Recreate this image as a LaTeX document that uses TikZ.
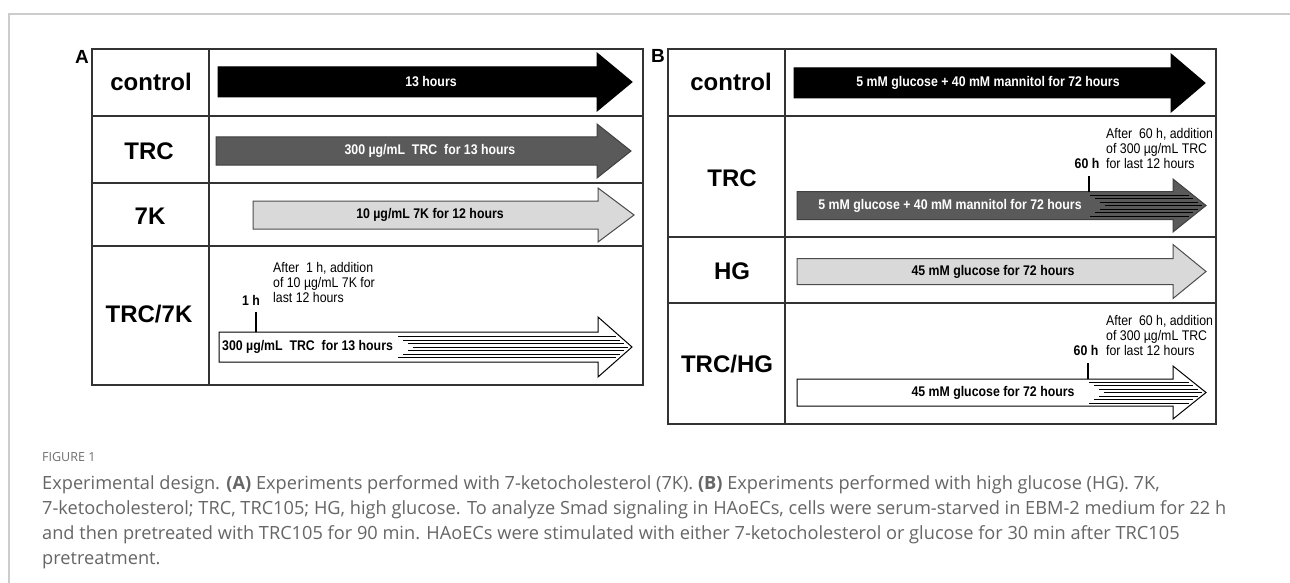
\documentclass[tikz,border=0pt]{standalone}
\usepackage{fontspec}
\setmainfont{Liberation Sans}
\newfontfamily\condensed[FakeStretch=0.88]{Liberation Sans}
\newfontfamily\capfont{Open Sans}

\definecolor{darkfill}{HTML}{5A5A5A}
\definecolor{lightfill}{HTML}{D9D9D9}
\definecolor{framegray}{HTML}{CCCCCC}
\definecolor{captext}{HTML}{666666}
\definecolor{capfig}{HTML}{6E6E6E}

\tikzset{
  grid line/.style={draw=black!80, line width=1.3pt},
  rowlabel/.style={font=\fontsize{24}{28}\selectfont\bfseries, inner sep=0pt},
  panel/.style={font=\fontsize{19}{22}\selectfont\bfseries, inner sep=0pt},
  arrowtext/.style={font=\condensed\fontsize{14}{16}\selectfont\bfseries, inner sep=0pt},
  note/.style={font=\condensed\fontsize{14}{15}\selectfont, inner sep=0pt, align=left, anchor=west},
  tick/.style={line width=2.2pt},
  hatch/.style={line width=0.8pt},
  outline/.style={line width=1pt, line join=miter},
  capline/.style={font=\capfont\fontsize{18.2}{22}\selectfont, text=captext, anchor=base west, inner sep=0pt},
}

% block arrow: [style]{left x}{head start x}{tip x}{centre y}{shaft half}{head half}
\newcommand\timearrow[7][]{%
  \draw[outline,#1] (#2,#5-#6) -- (#3,#5-#6) -- (#3,#5-#7) -- (#4,#5)
    -- (#3,#5+#7) -- (#3,#5+#6) -- (#2,#5+#6) -- cycle;}

% stripes inside a shaft: {start x}{tip x}{head start x}{centre y}{head half}
\newcommand\stripes[5]{%
  \foreach \d in {-10.5,-7,-3.5,0,3.5,7,10.5}{%
    \draw[hatch] ({#1+(10.5-abs(\d))*1.4},{#4+(\d)})
      -- ({#2-(#2-#3)*abs(\d)/#5-4},{#4+(\d)});}}

\begin{document}
\begin{tikzpicture}[x=1pt,y=-1pt]
\useasboundingbox (0,0) rectangle (1290,583);
\fill[white] (0,0) rectangle (1290,583);

% page frame
\draw[framegray, line width=2pt] (9,583) -- (9,14) -- (1290,14);

% ---------------- panel A ----------------
\node[panel] (pA) at (82,57) {A};
\draw[grid line] (92,49) rectangle (643,385);
\draw[grid line] (209,49) -- (209,385);
\draw[grid line] (92,116) -- (643,116);
\draw[grid line] (92,183) -- (643,183);
\draw[grid line] (92,246) -- (643,246);

\node[rowlabel] (a-control) at (151,82) {control};
\node[rowlabel] (a-trc) at (149,151) {TRC};
\node[rowlabel] (a-7k) at (150,216) {7K};
\node[rowlabel] (a-trc7k) at (149,314) {TRC/7K};

\timearrow[fill=black, draw=black]{218}{597}{632}{82}{15}{29}
\timearrow[fill=darkfill, draw=black!75]{216}{597}{631}{151}{14}{27}
\timearrow[fill=lightfill, draw=black!70]{253}{598}{634}{215}{14}{27}
\timearrow[fill=white, draw=black]{219}{598}{632}{347}{15}{30}

\node[arrowtext, text=white] (a1-t) at (431,82) {13 hours};
\node[arrowtext, text=white] (a2-t) at (430,151) {300 µg/mL~~TRC~~for 13 hours};
\node[arrowtext] (a3-t) at (430,215) {10 µg/mL 7K for 12 hours};
\node[arrowtext, anchor=west] (a4-t) at (222,347) {300 µg/mL~~TRC~~for 13 hours};
\stripes{398}{632}{598}{347}{30}

\coordinate (a4-base) at (256,332);
\coordinate (a4-top) at (256,312);
\draw[tick] (a4-base) -- (a4-top);
\node[arrowtext] (a4-h) at (251,300) {1 h};
\node[note] (a4-note) at (273,282) {After~ 1 h, addition\\of 10 µg/mL 7K for\\last 12 hours};

% ---------------- panel B ----------------
\node[panel] (pB) at (658,56) {B};
\draw[grid line] (668,49) rectangle (1216,424);
\draw[grid line] (785,49) -- (785,424);
\draw[grid line] (668,116) -- (1216,116);
\draw[grid line] (668,237) -- (1216,237);
\draw[grid line] (668,303) -- (1216,303);

\node[rowlabel] (b-control) at (731,82) {control};
\node[rowlabel] (b-trc) at (732,178) {TRC};
\node[rowlabel] (b-hg) at (732,271) {HG};
\node[rowlabel] (b-trchg) at (727,364) {TRC/HG};

\timearrow[fill=black, draw=black]{794}{1171}{1205}{83}{15}{29}
\timearrow[fill=darkfill, draw=black!75]{797}{1173}{1206}{205.5}{14}{26.5}
\timearrow[fill=lightfill, draw=black!70]{797}{1173}{1206}{271.5}{13}{27}
\timearrow[fill=white, draw=black]{797}{1173}{1206}{392.5}{13.5}{26.5}

\node[arrowtext, text=white] (b1-t) at (988,83) {5 mM glucose + 40 mM mannitol for 72 hours};
\node[arrowtext, text=white] (b2-t) at (950,205.5) {5 mM glucose + 40 mM mannitol for 72 hours};
\node[arrowtext] (b3-t) at (993,271.5) {45 mM glucose for 72 hours};
\node[arrowtext] (b4-t) at (993,393) {45 mM glucose for 72 hours};
\stripes{1090}{1206}{1173}{205.5}{26.5}
\stripes{1089}{1206}{1173}{392.5}{26.5}

\coordinate (b2-base) at (1089,191.5);
\coordinate (b2-top) at (1089,176);
\draw[tick] (b2-base) -- (b2-top);
\node[arrowtext] (b2-h) at (1087,163) {60 h};
\node[note] (b2-note) at (1106,148) {After~ 60 h, addition\\of 300 µg/mL TRC\\for last 12 hours};

\coordinate (b4-base) at (1088,379);
\coordinate (b4-top) at (1088,363);
\draw[tick] (b4-base) -- (b4-top);
\node[arrowtext] (b4-h) at (1086,350) {60 h};
\node[note] (b4-note) at (1106,335) {After~ 60 h, addition\\of 300 µg/mL TRC\\for last 12 hours};

% ---------------- caption ----------------
\node[font=\capfont\fontsize{12.5}{14}\selectfont, text=capfig, anchor=west, inner sep=0pt] (fig) at (42,457) {FIGURE 1};
\node[capline] (cap1) at (42,489) {Experimental design. \textbf{(A)} Experiments performed with 7-ketocholesterol (7K). \textbf{(B)} Experiments performed with high glucose (HG). 7K,};
\node[capline] (cap2) at (42,514) {7-ketocholesterol; TRC, TRC105; HG, high glucose. To analyze Smad signaling in HAoECs, cells were serum-starved in EBM-2 medium for 22 h};
\node[capline] (cap3) at (42,539) {and then pretreated with TRC105 for 90 min. HAoECs were stimulated with either 7-ketocholesterol or glucose for 30 min after TRC105};
\node[capline] (cap4) at (42,564) {pretreatment.};
\end{tikzpicture}
\end{document}
